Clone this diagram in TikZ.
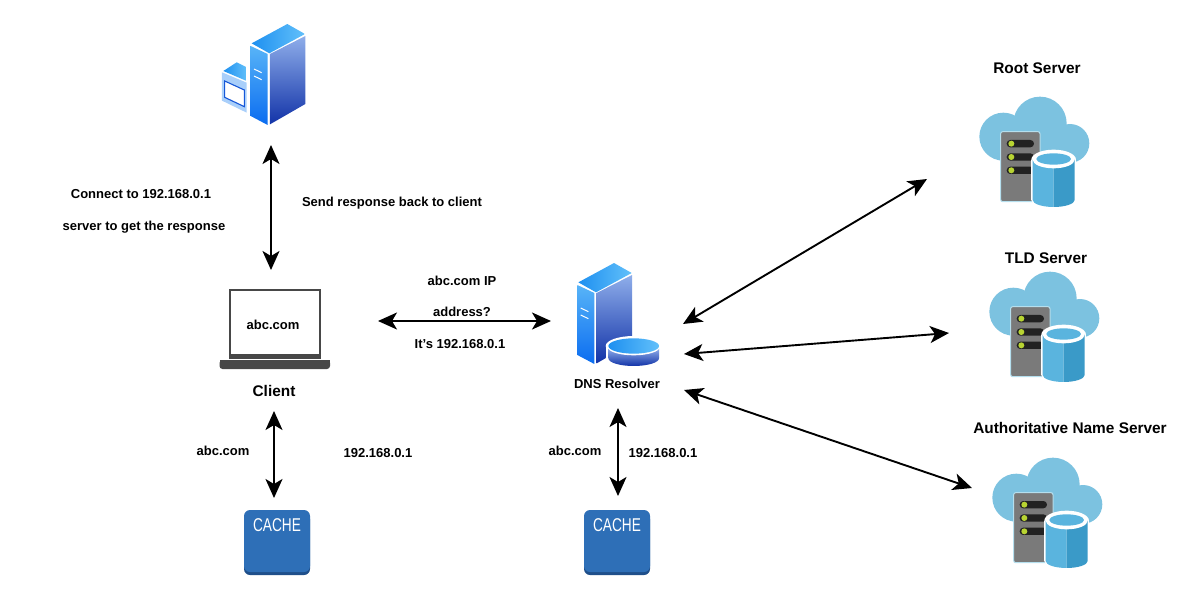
\documentclass[tikz,border=0pt]{standalone}
\usepackage{fontspec}
\setmainfont{Liberation Sans}
\usetikzlibrary{arrows.meta}

\definecolor{cloudblue}{HTML}{7CC2E0}
\definecolor{drumlight}{HTML}{5AB4DE}
\definecolor{drumdark}{HTML}{3A9AC8}
\definecolor{rackgray}{HTML}{7A7A7A}
\definecolor{rackedge}{HTML}{B5DFEE}
\definecolor{slotblack}{HTML}{222222}
\definecolor{ledgreen}{HTML}{B8D432}
\definecolor{cachefill}{HTML}{2E6FB7}
\definecolor{cacheedge}{HTML}{1F4F8A}
\definecolor{laptopgray}{HTML}{474747}
\definecolor{topdeep}{HTML}{1E90F0}
\definecolor{toppale}{HTML}{62C0FA}
\definecolor{sidepale}{HTML}{58B4F8}
\definecolor{sidedeep}{HTML}{0A6CF0}
\definecolor{facepale}{HTML}{8FAEEA}
\definecolor{facedeep}{HTML}{1233A8}
\definecolor{panelblue}{HTML}{A9CFFA}
\definecolor{screenblue}{HTML}{1557D8}

\tikzset{
  link/.style={black, line width=1.9pt, {Stealth[length=19pt,width=17pt,inset=5pt]}-{Stealth[length=19pt,width=17pt,inset=5pt]}},
  caption/.style={inner sep=0pt, font=\fontsize{13}{15}\selectfont\bfseries},
  heading/.style={inner sep=0pt, font=\fontsize{15.4}{17}\selectfont\bfseries},
  cachetext/.style={inner sep=0pt, text=white, xscale=0.74, font=\fontsize{18.5}{20}\selectfont}
}

% tall server box, in zoomed units
\newcommand{\towericon}{
  \shade [left color=topdeep, right color=toppale] (155,100) -- (262,42) -- (315,72) -- (208,130) -- cycle;
  \shade [top color=sidepale, bottom color=sidedeep] (152,108) -- (203,132) -- (203,345) -- (152,318) -- cycle;
  \shade [top color=facepale, bottom color=facedeep] (210,132) -- (316,78) -- (316,282) -- (210,343) -- cycle;
  \draw [white, line width=1pt] (162,177) -- (185,188);
  \draw [white, line width=1pt] (162,198) -- (185,209);
}

% cloud with rack and drum, in zoomed units (y runs down, so the lower rim is arc 180:0)
\newcommand{\cloudicon}{
  \fill [cloudblue] (130,155) circle (72);
  \fill [cloudblue] (240,115) circle (80);
  \fill [cloudblue] (330,175) circle (58);
  \fill [cloudblue] (130,140) rectangle (340,233);
  \draw [fill=rackgray, draw=rackedge, line width=1pt, rounded corners=2pt] (122,140) rectangle (240,350);
  \foreach \slot in {176,216,256} {
    \fill [slotblack, rounded corners=3.6pt] (140,\slot-11) rectangle (222,\slot+11);
    \fill [ledgreen] (154,\slot) circle (9);
  }
  \fill [white] (214,224) rectangle (348,345);
  \fill [white] (281,345) ellipse (67 and 25);
  \fill [white] (281,224) ellipse (67 and 30);
  \fill [drumlight] (218,224) -- (218,345) arc (180:90:63 and 21) -- (281,224) -- cycle;
  \fill [drumdark] (344,224) -- (344,345) arc (0:90:63 and 21) -- (281,224) -- cycle;
  \fill [white] (281,224) ellipse (63 and 26);
  \fill [drumlight] (281,222) ellipse (52 and 17);
}

\newcommand{\cacheicon}{
  \fill [cacheedge, rounded corners=6pt] (0,3) rectangle (66,65);
  \fill [cachefill, rounded corners=6pt] (0,0) rectangle (66,62);
}

\begin{document}
\begin{tikzpicture}[x=1pt,y=-1pt]
\useasboundingbox (0,0) rectangle (1200,600);

% web server
\begin{scope}[shift={(200,10)},scale=0.3333]
  \fill [panelblue] (66,187) -- (140,218) -- (140,308) -- (66,272) -- cycle;
  \shade [left color=topdeep, right color=toppale] (70,183) -- (110,157) -- (140,172) -- (140,213) -- cycle;
  \draw [screenblue, fill=white, line width=1.1pt] (74,213) -- (133,240) -- (133,290) -- (74,262) -- cycle;
  \towericon
\end{scope}

% dns resolver
\begin{scope}[shift={(526.7,249)},scale=0.3333]
  \towericon
  \fill [white] (321,291) ellipse (84 and 30);
  \fill [white] (237,291) rectangle (405,328);
  \fill [white] (321,328) ellipse (84 and 30);
  \shade [top color=facepale, bottom color=facedeep] (245,298) -- (245,328) arc (180:0:76 and 23) -- (397,298) -- cycle;
  \fill [white] (321,294) ellipse (78 and 25);
  \shade [left color=topdeep, right color=toppale] (321,291) ellipse (76 and 23);
\end{scope}

% clouds
\begin{scope}[shift={(960,85)},scale=0.3333]
  \cloudicon
\end{scope}
\begin{scope}[shift={(970,260)},scale=0.3333]
  \cloudicon
\end{scope}
\begin{scope}[shift={(973,446)},scale=0.3333]
  \cloudicon
\end{scope}

% laptop
\draw [laptopgray, fill=white, line width=2pt] (229.5,289.5) rectangle (320,358);
\fill [laptopgray] (229,354) rectangle (321,359);
\fill [laptopgray, rounded corners=3pt] (219.5,360) rectangle (330,369);
\fill [laptopgray] (219.5,360) rectangle (330,364);

% caches
\begin{scope}[shift={(244,510)}]
  \cacheicon
\end{scope}
\begin{scope}[shift={(584,510)}]
  \cacheicon
\end{scope}
\node (cacheclient) at (277,525) [cachetext] {CACHE};
\node (cachedns) at (617,525) [cachetext] {CACHE};

% labels
\node (rootname) at (1037,68) [heading] {Root Server};
\node (tldname) at (1046,258) [heading] {TLD Server};
\node (authname) at (1070,428) [heading] {Authoritative Name Server};
\node (connecttext) at (141,194) [caption] {Connect to 192.168.0.1};
\node (servertext) at (144,227) [caption] {server to get the response};
\node (sendtext) at (392,203) [caption] {Send response back to client};
\node (screentext) at (273,325) [caption] {abc.com};
\node (client) at (274,391) [heading] {Client};
\node (asktext) at (462,281) [caption] {abc.com IP};
\node (addresstext) at (462,312) [caption] {address?};
\node (replytext) at (460,344) [caption] {It's 192.168.0.1};
\node (resolver) at (617,384) [caption] {DNS Resolver};
\node (leftquery) at (223,451) [caption] {abc.com};
\node (leftanswer) at (378,453) [caption] {192.168.0.1};
\node (midquery) at (575,451) [caption] {abc.com};
\node (midanswer) at (663,453) [caption] {192.168.0.1};

% connector ends
\coordinate (webport) at (271,145);
\coordinate (laptoptop) at (271,270);
\coordinate (laptopright) at (378,321);
\coordinate (dnsleft) at (551,321);
\coordinate (laptopbottom) at (274,411);
\coordinate (cacheclienttop) at (274,498);
\coordinate (dnsbottom) at (618,408);
\coordinate (cachednstop) at (618,496);
\coordinate (dnsroot) at (683,324);
\coordinate (rootport) at (927,179);
\coordinate (dnstld) at (684,354);
\coordinate (tldport) at (949,333);
\coordinate (dnsauth) at (684,390);
\coordinate (authport) at (972,488);

\draw [link] (webport) -- (laptoptop);
\draw [link] (laptopright) -- (dnsleft);
\draw [link] (laptopbottom) -- (cacheclienttop);
\draw [link] (dnsbottom) -- (cachednstop);
\draw [link] (dnsroot) -- (rootport);
\draw [link] (dnstld) -- (tldport);
\draw [link] (dnsauth) -- (authport);

\end{tikzpicture}
\end{document}
